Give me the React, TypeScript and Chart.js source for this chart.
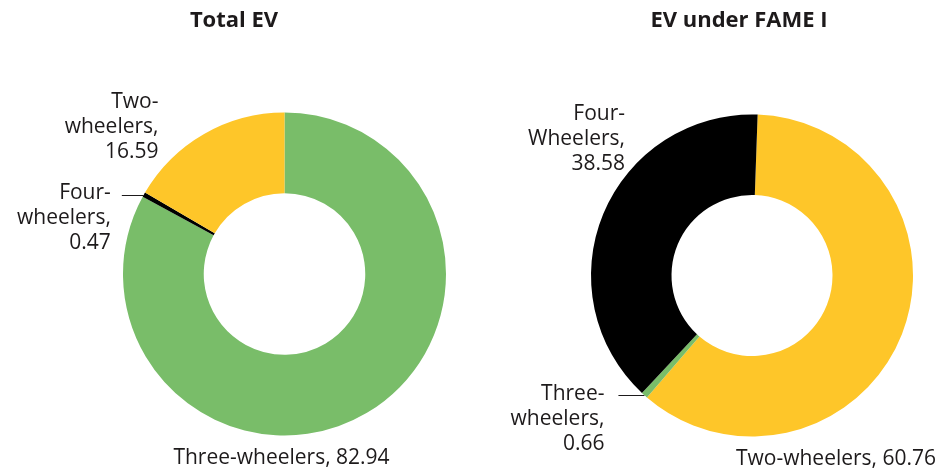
import React, { useEffect, useRef } from "react";
import { Chart, registerables } from "chart.js";

Chart.register(...registerables);

// ---- Data ----
const leftTitle = "Total EV";
const leftCategories = ["Three-wheelers", "Four-wheelers", "Two-wheelers"];
const leftValues = [82.94, 0.47, 16.59];

const rightTitle = "EV under FAME I";
const rightCategories = ["Two-wheelers", "Three-wheelers", "Four-Wheelers"];
const rightValues = [60.76, 0.66, 38.58];

// ---- Styles ----
const COLORS: Record<string, string> = {
  two: "#fec629",
  three: "#79bd69",
  four: "#000000",
};
const TEXT = "#1d1a1b";
const FONT = "'Open Sans', 'Noto Sans', sans-serif";

function colorFor(cat: string) {
  const c = cat.toLowerCase();
  if (c.startsWith("two")) return COLORS.two;
  if (c.startsWith("three")) return COLORS.three;
  return COLORS.four;
}

type LabelLayout = {
  mode: "single" | "stack";
  align: "left" | "right" | "center";
  dx?: number;
  dy?: number;
  leader?: number;
  gap?: number;
  lineShift?: number;
};

const leftLayout: LabelLayout[] = [
  { mode: "single", align: "center", dx: -3, dy: 184 },
  { mode: "stack", align: "right", leader: 22, gap: 11, lineShift: -2 },
  { mode: "stack", align: "right", dx: -126, dy: -172 },
];
const rightLayout: LabelLayout[] = [
  { mode: "single", align: "center", dx: 84, dy: 183.5 },
  { mode: "stack", align: "right", leader: 26, gap: 14, lineShift: -1 },
  { mode: "stack", align: "right", dx: -127, dy: -161.5 },
];

const LINE_H = 25;

function labelLines(cat: string, v: number, mode: "single" | "stack") {
  const val = v.toFixed(2);
  if (mode === "single") return [`${cat}, ${val}`];
  const i = cat.indexOf("-");
  return [cat.slice(0, i + 1), cat.slice(i + 1) + ",", val];
}

function makeLabelPlugin(
  cats: string[],
  vals: number[],
  layout: LabelLayout[],
  title: string,
  titleX: number,
  titleBaseline: number
) {
  return {
    id: "sliceLabels",
    afterDraw(chart: any) {
      const ctx = chart.ctx as CanvasRenderingContext2D;
      const meta = chart.getDatasetMeta(0);
      ctx.save();
      // title
      ctx.fillStyle = TEXT;
      ctx.font = `bold 22px ${FONT}`;
      ctx.textAlign = "center";
      ctx.textBaseline = "alphabetic";
      ctx.fillText(title, titleX, titleBaseline);

      ctx.font = `21px ${FONT}`;
      ctx.textBaseline = "middle";
      meta.data.forEach((arc: any, i: number) => {
        const L = layout[i];
        const { x, y, startAngle, endAngle, outerRadius } = arc.getProps(
          ["x", "y", "startAngle", "endAngle", "outerRadius"],
          true
        );
        const lines = labelLines(cats[i], vals[i], L.mode);
        let tx: number;
        let ty: number;
        if (L.leader) {
          const mid = (startAngle + endAngle) / 2;
          const px = x + Math.cos(mid) * outerRadius;
          const py = y + Math.sin(mid) * outerRadius;
          ctx.strokeStyle = TEXT;
          ctx.lineWidth = 1;
          ctx.beginPath();
          ctx.moveTo(px, Math.round(py) + 0.5);
          ctx.lineTo(px - L.leader, Math.round(py) + 0.5);
          ctx.stroke();
          tx = px - L.leader - (L.gap || 0);
          ty = py + (L.lineShift || 0);
        } else {
          tx = x + (L.dx || 0);
          ty = y + (L.dy || 0);
        }
        ctx.textAlign = L.align;
        ctx.fillStyle = TEXT;
        lines.forEach((ln, k) => ctx.fillText(ln, tx, ty + k * LINE_H));
      });
      ctx.restore();
    },
  };
}

function makeConfig(
  cats: string[],
  vals: number[],
  rotation: number,
  padding: any,
  plugin: any
): any {
  return {
    type: "doughnut",
    data: {
      labels: cats,
      datasets: [
        {
          data: vals,
          backgroundColor: cats.map(colorFor),
          borderWidth: 0,
        },
      ],
    },
    options: {
      responsive: false,
      maintainAspectRatio: false,
      animation: false,
      cutout: "50%",
      rotation,
      layout: { padding },
      plugins: {
        legend: { display: false },
        tooltip: { enabled: false },
        title: { display: false },
      },
    },
    plugins: [plugin],
  };
}

export default function App() {
  const leftRef = useRef<HTMLCanvasElement>(null);
  const rightRef = useRef<HTMLCanvasElement>(null);

  useEffect(() => {
    const left = new Chart(
      leftRef.current!,
      makeConfig(
        leftCategories,
        leftValues,
        0,
        { left: 123, right: 503, top: 112, bottom: 37 },
        makeLabelPlugin(leftCategories, leftValues, leftLayout, leftTitle, 234, 27)
      )
    );
    const right = new Chart(
      rightRef.current!,
      makeConfig(
        rightCategories,
        rightValues,
        2,
        { left: 591, right: 36, top: 114, bottom: 36 },
        makeLabelPlugin(rightCategories, rightValues, rightLayout, rightTitle, 739, 27)
      )
    );
    return () => {
      left.destroy();
      right.destroy();
    };
  }, []);

  const canvasStyle: React.CSSProperties = {
    position: "absolute",
    left: 0,
    top: 0,
    width: 949,
    height: 473,
  };

  return (
    <div
      style={{
        position: "fixed",
        left: 0,
        top: 0,
        width: 949,
        height: 473,
        background: "#ffffff",
      }}
    >
      <canvas ref={leftRef} width={949} height={473} style={canvasStyle} />
      <canvas ref={rightRef} width={949} height={473} style={canvasStyle} />
    </div>
  );
}
